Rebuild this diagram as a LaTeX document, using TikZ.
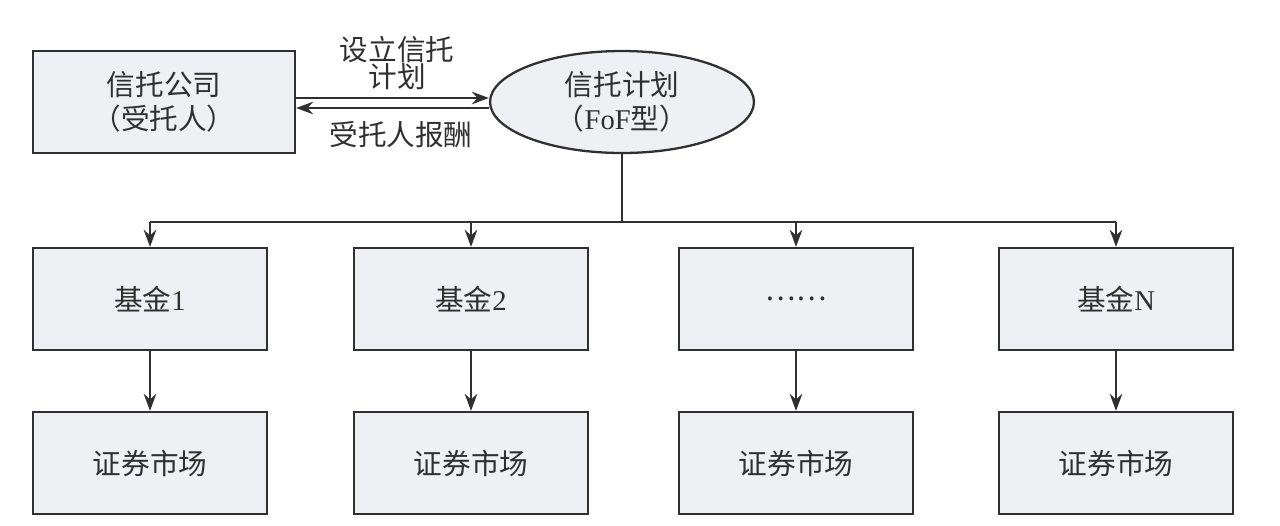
\documentclass[tikz,border=0pt]{standalone}
\usepackage{fontspec}
\setmainfont{Liberation Serif}
\newfontfamily\cjk{Noto Sans CJK SC}
\usetikzlibrary{arrows.meta,shapes.geometric}
\definecolor{boxfill}{HTML}{EFF0F3}
\definecolor{linec}{HTML}{303030}
\begin{document}
\begin{tikzpicture}[x=0.02cm,y=-0.02cm,
  every node/.style={font=\fontsize{16.3pt}{19.5pt}\selectfont, text=linec},
  box/.style={draw=linec, line width=1.3pt, fill=boxfill, inner sep=0pt, align=center, minimum width=4.68cm, minimum height=2.04cm},
  oval/.style={ellipse, draw=linec, line width=1.3pt, fill=boxfill, inner sep=0pt, align=center, minimum width=5.28cm, minimum height=2.04cm},
  lbl/.style={align=center, inner sep=0pt, font=\fontsize{16.3pt}{15.8pt}\selectfont},
  arr/.style={-{Stealth[length=0.34cm,width=0.25cm]}, line width=1.3pt, draw=linec},
  ln/.style={line width=1.3pt, draw=linec}]
\useasboundingbox (0,0) rectangle (1280,525);

\node[box, minimum width=5.24cm] (tc) at (164,102) {{\cjk 信托公司}\\{\cjk （受托人）}};
\node[oval] (plan) at (622,102) {{\cjk 信托计划}\\{\cjk （}FoF{\cjk 型）}};

\node[lbl] (l1) at (397,63) {{\cjk 设立信托}\\{\cjk 计划}};
\node[lbl] (l2) at (401,135) {\cjk 受托人报酬};

\draw[arr] ([yshift=0.08cm]tc.east) -- ([yshift=0.08cm]plan.west);
\draw[arr] ([yshift=-0.12cm]plan.west) -- ([yshift=-0.12cm]tc.east);

\node[box] (f1) at (150,299) {{\cjk 基金}1};
\node[box] (f2) at (471,299) {{\cjk 基金}2};
\node[box] (f3) at (796,299) {{\cjk ……}};
\node[box] (f4) at (1116,299) {{\cjk 基金}N};

\node[box] (m1) at (150,463) {\cjk 证券市场};
\node[box] (m2) at (471,463) {\cjk 证券市场};
\node[box] (m3) at (796,463) {\cjk 证券市场};
\node[box] (m4) at (1116,463) {\cjk 证券市场};

\coordinate (bus) at (622,222);
\draw[ln] (plan.south) -- (bus);
\draw[ln] (f1.north |- bus) -- (f4.north |- bus);
\foreach \i in {1,2,3,4} {
  \draw[arr] (f\i.north |- bus) -- (f\i.north);
  \draw[arr] (f\i.south) -- (m\i.north);
}
\end{tikzpicture}
\end{document}
